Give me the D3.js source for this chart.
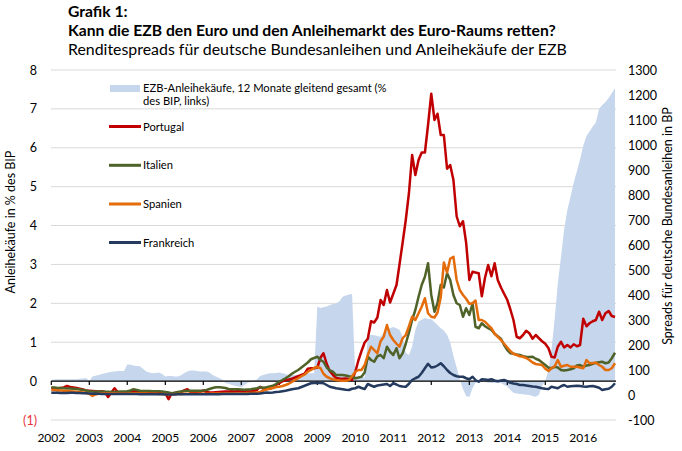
<!DOCTYPE html>
<html>
<head>
<meta charset="utf-8">
<script src="https://cdn.jsdelivr.net/npm/d3@7"></script>
<style>
  body { margin: 0; background: #fff; }
  text { font-family: Lato, "Open Sans", sans-serif; fill: #000; }
</style>
</head>
<body>
<script>
// tick labels
var years = [2002, 2003, 2004, 2005, 2006, 2007, 2008, 2009, 2010, 2011, 2012, 2013, 2014, 2015, 2016];
var leftTicks = [-1, 0, 1, 2, 3, 4, 5, 6, 7, 8];
var rightTicks = [-100, 0, 100, 200, 300, 400, 500, 600, 700, 800, 900, 1000, 1100, 1200, 1300];

// monthly values, Jan 2002 - Nov 2016, one row per year
// EZB-Anleihekäufe, % des BIP (left axis)
var ezb = [
  0.03, 0.04, 0.05, 0.05, 0.05, 0.05, 0.05, 0.05, 0.05, 0.06, 0.07, 0.08,
  0.0, 0.12, 0.14, 0.16, 0.18, 0.2, 0.22, 0.24, 0.25, 0.26, 0.26, 0.26,
  0.43, 0.42, 0.4, 0.39, 0.38, 0.32, 0.25, 0.22, 0.2, 0.21, 0.22, 0.18,
  0.12, 0.13, 0.13, 0.12, 0.12, 0.15, 0.2, 0.25, 0.27, 0.27, 0.26, 0.25,
  0.25, 0.25, 0.22, 0.16, 0.12, 0.08, 0.04, -0.05, -0.07, -0.1, -0.12, -0.14,
  -0.16, -0.1, -0.05, -0.02, 0.0, 0.05, 0.13, 0.16, 0.18, 0.2, 0.2, 0.21,
  0.22, 0.2, 0.18, 0.16, 0.16, 0.16, 0.16, 0.17, 0.18, 0.2, 0.2, 0.2,
  1.92, 1.88, 1.9, 1.92, 1.96, 1.98, 2.0, 2.05, 2.17, 2.2, 2.23, 2.24,
  0.12, 0.1, 0.1, 0.1, 1.15, 1.19, 1.18, 1.16, 1.14, 1.25, 1.32, 1.36,
  1.39, 1.36, 1.32, 1.14, 0.72, 0.67, 0.89, 1.32, 1.53, 1.58, 1.62, 1.6,
  1.59, 1.52, 1.44, 1.36, 1.3, 1.19, 1.0, 0.65, 0.35, 0.05, -0.2, -0.38,
  -0.41, -0.18, -0.05, -0.03, -0.01, -0.02, -0.04, -0.05, -0.05, -0.05, -0.05, -0.1,
  -0.14, -0.23, -0.3, -0.32, -0.33, -0.34, -0.35, -0.36, -0.38, -0.4, -0.35, -0.12,
  0.0, 0.3, 0.8, 1.6, 2.5, 3.2, 3.9, 4.4, 4.75, 5.1, 5.4, 5.7,
  6.05, 6.3, 6.42, 6.55, 6.65, 7.0, 7.1, 7.18, 7.28, 7.4, 7.53
];

// spreads in BP (right axis)
var portugal = [
  28, 27, 26, 28, 30, 36, 32, 30, 28, 25, 22, 18,
  17, 16, 15, 14, 15, 12, -8, 10, 27, 12, 9, 10,
  12, 13, 15, 14, 13, 12, 11, 10, 10, 11, 10, 9,
  8, -17, 5, 8, 10, 12, 18, 23, 12, 10, 12, 13,
  18, 12, 10, 10, 11, 12, 13, 14, 14, 15, 14, 16,
  14, 15, 16, 14, 16, 20, 33, 25, 27, 25, 30, 40,
  47, 55, 60, 62, 65, 70, 75, 80, 85, 105, 107, 107,
  110, 150, 167, 125, 95, 80, 68, 66, 65, 66, 64, 60,
  93, 140, 175, 210, 225, 295, 290, 310, 380, 360, 420, 370,
  405, 440, 520, 610, 700, 810, 960, 880, 940, 970, 970, 1080,
  1205, 1100, 1125, 1040, 1040, 905, 920, 860, 715, 675, 695, 610,
  460, 493, 490, 487, 395, 470, 520, 475, 527, 460, 430, 405,
  380, 340, 300, 233, 227, 240, 257, 247, 225, 240, 227, 215,
  205, 187, 153, 150, 193, 213, 190, 200, 190, 203, 195, 200,
  305, 275, 287, 295, 300, 333, 300, 327, 336, 316, 312
];

var italien = [
  30, 30, 28, 28, 27, 26, 26, 25, 24, 22, 20, 18,
  15, 14, 13, 14, 14, 13, 13, 12, 12, 13, 14, 14,
  15, 18, 23, 20, 17, 16, 16, 16, 15, 15, 15, 14,
  12, 10, 7, 9, 12, 14, 16, 17, 17, 17, 17, 17,
  18, 20, 24, 28, 31, 31, 30, 28, 24, 23, 23, 23,
  22, 21, 22, 23, 25, 27, 31, 29, 31, 34, 37, 44,
  53, 60, 67, 75, 85, 93, 100, 110, 120, 130, 143, 148,
  153, 140, 133, 110, 98, 93, 80, 80, 80, 78, 75, 73,
  67, 70, 73, 90, 153, 140, 133, 155, 160, 147, 193, 173,
  160, 187, 147, 167, 205, 250, 300, 340, 393, 440, 473, 527,
  400, 333, 367, 440, 430, 487, 460, 400, 367, 360, 313, 347,
  320, 367, 273, 267, 287, 275, 267, 260, 245, 235, 225, 200,
  180, 167, 165, 162, 160, 155, 153, 152, 153, 145, 140, 130,
  120, 109, 107, 113, 110, 100, 98, 100, 103, 107, 118, 120,
  113, 118, 120, 125, 129, 131, 133, 127, 130, 147, 169
];

var spanien = [
  20, 20, 18, 18, 17, 16, 15, 14, 13, 12, 10, 8,
  5, -4, 2, 5, 6, 7, 7, 7, 7, 6, 6, 6,
  6, 7, 7, 7, 6, 6, 6, 5, 5, 5, 4, 4,
  3, 3, 3, 3, 4, 4, 5, 5, 5, 5, 5, 6,
  5, 5, 5, 6, 6, 6, 6, 6, 6, 6, 6, 6,
  6, 7, 8, 8, 9, 10, 12, 18, 22, 25, 28, 32,
  33, 36, 40, 45, 52, 60, 67, 75, 82, 93, 100, 108,
  113, 107, 85, 73, 67, 63, 60, 58, 57, 57, 60, 75,
  93, 100, 100, 120, 160, 193, 180, 167, 215, 233, 280, 240,
  220, 205, 193, 227, 240, 275, 313, 300, 327, 353, 387, 327,
  313, 310, 330, 390, 530, 490, 545, 553, 460, 420, 400, 385,
  365, 367, 378, 300, 300, 293, 280, 267, 245, 233, 220, 205,
  190, 175, 165, 160, 155, 153, 148, 140, 130, 124, 122, 120,
  105, 96, 107, 115, 140, 113, 117, 120, 113, 113, 113, 110,
  107, 140, 127, 128, 129, 120, 113, 100, 100, 107, 127
];

var frankreich = [
  9, 9, 9, 8, 8, 8, 9, 9, 8, 8, 7, 7,
  6, 5, 5, 5, 4, 4, 4, 4, 4, 4, 4, 4,
  4, 4, 4, 4, 3, 3, 3, 3, 3, 3, 3, 3,
  2, 2, 2, 2, 3, 3, 3, 3, 3, 3, 3, 3,
  3, 3, 3, 3, 3, 3, 4, 4, 4, 4, 4, 4,
  4, 4, 4, 5, 5, 5, 6, 8, 10, 9, 10, 12,
  13, 15, 17, 20, 23, 25, 27, 32, 37, 42, 47, 48,
  49, 48, 47, 40, 33, 30, 27, 25, 23, 21, 20, 25,
  27, 33, 28, 24, 44, 38, 33, 38, 40, 42, 44, 36,
  47, 42, 36, 34, 33, 45, 60, 67, 73, 88, 107, 125,
  110, 112, 118, 127, 115, 100, 88, 80, 75, 73, 73, 67,
  63, 73, 60, 53, 63, 62, 60, 63, 58, 55, 58, 60,
  55, 49, 46, 44, 40, 40, 38, 36, 34, 33, 30, 27,
  25, 24, 33, 30, 27, 35, 40, 33, 35, 36, 37, 36,
  34, 33, 35, 36, 33, 29, 20, 23, 25, 33, 47
];

var seriesNames = ["Portugal", "Italien", "Spanien", "Frankreich"];
var seriesColors = ["#c00000", "#4f6228", "#e46c0a", "#243a5e"];
var seriesValues = [portugal, italien, spanien, frankreich];
var areaLabel = ["EZB-Anleihekäufe, 12 Monate gleitend gesamt (%", "des BIP, links)"];

var width = 682, height = 451;

var svg = d3.select("body").append("svg")
    .attr("width", width)
    .attr("height", height);

var months = ezb.map(function (d, i) { return new Date(2002, i, 1); });

var x = d3.scaleTime()
    .domain([months[0], months[months.length - 1]])
    .range([51.3, 615]);
var yL = d3.scaleLinear().domain([-1, 8]).range([420, 70]);
var yR = d3.scaleLinear().domain([-100, 1300]).range([420, 70]);

// title
var title = svg.append("g").attr("transform", "translate(68,0)");
title.append("text").attr("y", 17).attr("font-size", 15.7).attr("font-weight", "bold").text("Grafik 1:");
title.append("text").attr("y", 36).attr("font-size", 15.7).attr("font-weight", "bold")
    .text("Kann die EZB den Euro und den Anleihemarkt des Euro-Raums retten?");
title.append("text").attr("y", 55).attr("font-size", 15.9)
    .text("Renditespreads für deutsche Bundesanleihen und Anleihekäufe der EZB");

// gridlines
svg.append("g").selectAll("line")
    .data(leftTicks)
    .enter().append("line")
    .attr("x1", 51).attr("x2", 616)
    .attr("y1", function (d) { return yL(d); })
    .attr("y2", function (d) { return yL(d); })
    .attr("stroke", "#d9d9d9")
    .attr("stroke-width", 1);

// ECB purchases area
svg.append("path")
    .datum(ezb)
    .attr("fill", "#c6d6ec")
    .attr("d", d3.area()
        .x(function (d, i) { return x(months[i]); })
        .y0(yL(0))
        .y1(function (d) { return yL(d); }));

// zero line with year ticks
svg.append("line")
    .attr("x1", 51.3).attr("x2", 616)
    .attr("y1", yL(0)).attr("y2", yL(0))
    .attr("stroke", "#000").attr("stroke-width", 1.2);

svg.append("g").selectAll("line")
    .data(years)
    .enter().append("line")
    .attr("x1", function (d) { return x(new Date(d, 0, 1)); })
    .attr("x2", function (d) { return x(new Date(d, 0, 1)); })
    .attr("y1", yL(0)).attr("y2", yL(0) + 4)
    .attr("stroke", "#000").attr("stroke-width", 1.2);

svg.append("g").selectAll("text")
    .data(years)
    .enter().append("text")
    .attr("x", function (d) { return x(new Date(d, 0, 1)); })
    .attr("y", 442)
    .attr("text-anchor", "middle")
    .attr("font-size", 12)
    .text(function (d) { return d; });

// spread lines
var line = d3.line()
    .x(function (d, i) { return x(months[i]); })
    .y(function (d) { return yR(d); });

svg.append("g").selectAll("path")
    .data(seriesValues)
    .enter().append("path")
    .attr("fill", "none")
    .attr("stroke", function (d, i) { return seriesColors[i]; })
    .attr("stroke-width", 2.5)
    .attr("stroke-linejoin", "round")
    .attr("d", line);

// left axis
var leftAxis = svg.append("g")
    .attr("transform", "translate(37,0)")
    .call(d3.axisLeft(yL).tickValues(leftTicks).tickSize(0).tickPadding(0)
        .tickFormat(function (d) { return d < 0 ? "(" + (-d) + ")" : String(d); }));
leftAxis.select(".domain").remove();
leftAxis.selectAll("text")
    .attr("font-size", 12.5)
    .attr("font-family", "Lato, sans-serif")
    .style("fill", function (d) { return d < 0 ? "#e8303a" : "#000"; });

// right axis
var rightAxis = svg.append("g")
    .attr("transform", "translate(628,0)")
    .call(d3.axisRight(yR).tickValues(rightTicks).tickSize(0).tickPadding(0)
        .tickFormat(function (d) { return String(d); }));
rightAxis.select(".domain").remove();
rightAxis.selectAll("text")
    .attr("font-size", 12.5)
    .attr("font-family", "Lato, sans-serif");

// axis titles
svg.append("text")
    .attr("transform", "translate(15,222) rotate(-90)")
    .attr("text-anchor", "middle")
    .attr("font-size", 12.5)
    .text("Anleihekäufe in % des BIP");

svg.append("text")
    .attr("transform", "translate(672,226) rotate(-90)")
    .attr("text-anchor", "middle")
    .attr("font-size", 12.5)
    .text("Spreads für deutsche Bundesanleihen in BP");

// legend
var legend = svg.append("g");
legend.append("rect")
    .attr("x", 110).attr("y", 85)
    .attr("width", 30).attr("height", 7)
    .attr("fill", "#c6d6ec");
legend.selectAll(".area-label")
    .data(areaLabel)
    .enter().append("text")
    .attr("class", "area-label")
    .attr("x", 143)
    .attr("y", function (d, i) { return 92 + i * 13; })
    .attr("font-size", 11.2)
    .text(function (d) { return d; });

var legendY = [126.5, 165.3, 204, 242.5];
var items = legend.selectAll(".item")
    .data(seriesNames)
    .enter().append("g")
    .attr("class", "item")
    .attr("transform", function (d, i) { return "translate(0," + legendY[i] + ")"; });
items.append("line")
    .attr("x1", 109).attr("x2", 141)
    .attr("stroke", function (d, i) { return seriesColors[i]; })
    .attr("stroke-width", 3);
items.append("text")
    .attr("x", 143).attr("y", 4)
    .attr("font-size", 11.2)
    .text(function (d) { return d; });
</script>
</body>
</html>
